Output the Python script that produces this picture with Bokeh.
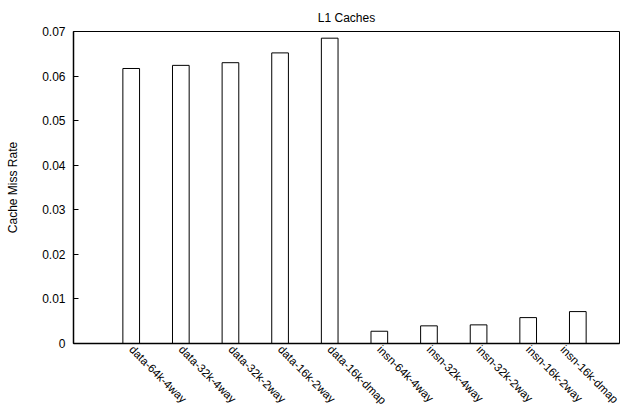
from bokeh.plotting import figure
from bokeh.models import FixedTicker, CustomJSTickFormatter, Range1d, ColumnDataSource
from bokeh.embed import file_html
from bokeh.resources import INLINE
import math

categories = ["data-64k-4way", "data-32k-4way", "data-32k-2way", "data-16k-2way", "data-16k-dmap",
              "insn-64k-4way", "insn-32k-4way", "insn-32k-2way", "insn-16k-2way", "insn-16k-dmap"]
miss_rate = [0.0617, 0.0624, 0.0630, 0.0652, 0.0685,
             0.00275, 0.00396, 0.00418, 0.00581, 0.00716]
y_ticks = [0, 0.01, 0.02, 0.03, 0.04, 0.05, 0.06, 0.07]

xs = list(range(len(categories)))
src = ColumnDataSource(dict(x=xs, y=miss_rate))

FONT = "Liberation Sans"

p = figure(width=620, height=413, output_backend="svg", toolbar_location=None,
           x_range=Range1d(-1.163, 9.84), y_range=Range1d(0, 0.07),
           title="L1 Caches", min_border_left=73, min_border_right=1,
           min_border_top=31, min_border_bottom=40)

p.vbar(x="x", top="y", width=0.336, bottom=0, source=src,
       fill_color="white", line_color="black", line_width=1)

p.title.align = "center"
p.title.vertical_align = "top"
p.title.text_font = FONT
p.title.text_font_size = "12px"
p.title.text_font_style = "normal"
p.title.text_color = "black"
p.title.standoff = 10

p.xgrid.visible = False
p.ygrid.visible = False
p.outline_line_color = "black"
p.outline_line_width = 1
p.outline_line_alpha = 1

# y axis
p.yaxis.ticker = FixedTicker(ticks=y_ticks)
p.yaxis.formatter = CustomJSTickFormatter(code="return tick.toFixed(2).replace(/\\.?0+$/, '');")
p.yaxis.major_tick_in = 5
p.yaxis.major_tick_out = 0
p.yaxis.major_tick_line_color = "black"
p.yaxis.minor_tick_line_color = None
p.yaxis.major_label_standoff = 8
p.yaxis.axis_label = "Cache Miss Rate"
p.yaxis.axis_label_standoff = 19
p.yaxis.axis_label_text_font_style = "normal"

# x axis
p.xaxis.ticker = FixedTicker(ticks=xs)
p.xaxis.major_label_overrides = {i: c for i, c in zip(xs, categories)}
p.xaxis.major_label_orientation = -math.pi / 4
p.xaxis.major_tick_line_color = None
p.xaxis.major_tick_in = 0
p.xaxis.major_tick_out = 0
p.xaxis.minor_tick_line_color = None
p.xaxis.major_label_standoff = 4
p.xaxis.axis_label_standoff = 0

for ax in (p.xaxis, p.yaxis):
    ax.axis_line_color = "black"
    ax.axis_line_width = 1.5
    ax.major_label_text_font = FONT
    ax.major_label_text_font_size = "12px"
    ax.major_label_text_color = "black"
    ax.axis_label_text_font = FONT
    ax.axis_label_text_font_size = "12px"
    ax.axis_label_text_color = "black"
p.xaxis.major_label_text_font_size = "11.5px"

open("out.html", "w").write(file_html(p, INLINE))
